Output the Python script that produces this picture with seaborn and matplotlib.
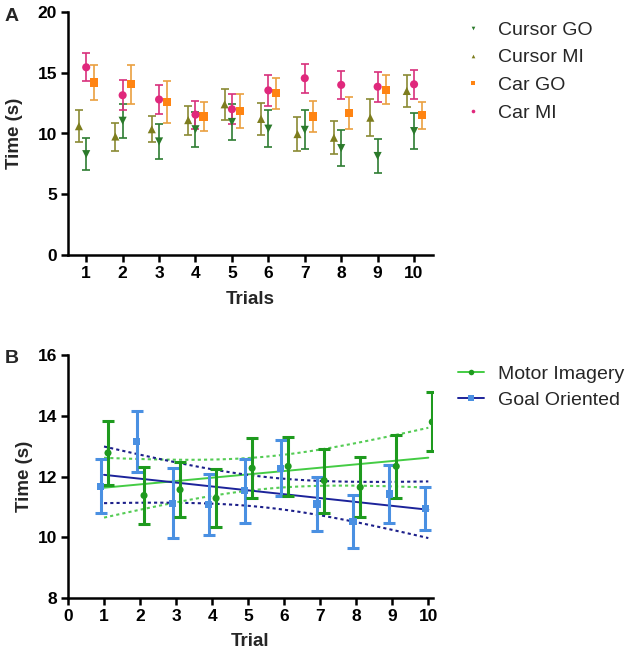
import numpy as np
import pandas as pd
import matplotlib
matplotlib.use("Agg")
import matplotlib.pyplot as plt
from matplotlib.lines import Line2D
import seaborn as sns

# ---------------- data ----------------
trials = [1, 2, 3, 4, 5, 6, 7, 8, 9, 10]

# Panel A
cursor_go_mean = [8.3, 11.05, 9.35, 10.35, 10.95, 10.4, 10.3, 8.8, 8.15, 10.2]
cursor_go_err = [1.3, 1.4, 1.45, 1.45, 1.45, 1.5, 1.6, 1.45, 1.4, 1.5]
cursor_mi_mean = [10.6, 9.75, 10.35, 11.1, 12.4, 11.2, 9.95, 9.65, 11.3, 13.5]
cursor_mi_err = [1.3, 1.15, 1.05, 1.2, 1.3, 1.35, 1.4, 1.35, 1.5, 1.3]
car_go_mean = [14.2, 14.05, 12.6, 11.4, 11.85, 13.3, 11.4, 11.7, 13.6, 11.5]
car_go_err = [1.42, 1.6, 1.72, 1.2, 1.4, 1.3, 1.25, 1.3, 1.2, 1.1]
car_mi_mean = [15.45, 13.15, 12.8, 11.55, 12.0, 13.55, 14.55, 14.0, 13.85, 14.05]
car_mi_err = [1.17, 1.23, 1.2, 1.15, 1.25, 1.3, 1.2, 1.15, 1.25, 1.2]
series_a = ["Cursor GO", "Cursor MI", "Car GO", "Car MI"]
x_ticks_a = [1, 2, 3, 4, 5, 6, 7, 8, 9, 10]
y_ticks_a = [0, 5, 10, 15, 20]

# Panel B
mi_mean = [12.78, 11.38, 11.57, 11.29, 12.28, 12.34, 11.87, 11.65, 12.34, 13.8]
mi_err = [1.05, 0.93, 0.9, 0.96, 0.98, 0.98, 1.05, 0.98, 1.04, 0.97]
go_mean = [11.69, 13.15, 11.13, 11.08, 11.54, 12.28, 11.10, 10.52, 11.43, 10.94]
go_err = [0.88, 1.0, 1.15, 1.0, 1.05, 0.93, 0.89, 0.87, 0.95, 0.71]
series_b = ["Motor Imagery", "Goal Oriented"]
x_ticks_b = [0, 1, 2, 3, 4, 5, 6, 7, 8, 9, 10]
y_ticks_b = [8, 10, 12, 14, 16]

# ---------------- style ----------------
sns.set_style("ticks")
plt.rcParams["font.family"] = ["Liberation Sans", "DejaVu Sans"]

W, H = 633, 657
fig = plt.figure(figsize=(W / 100, H / 100), dpi=100)

def fx(px):
    return px / W

def fy(py):
    return 1 - py / H

axA = fig.add_axes([fx(68), fy(255), fx(433) - fx(68), fy(12) - fy(255)])
axB = fig.add_axes([fx(68), fy(598.3), fx(433) - fx(68), fy(355) - fy(598.3)])

# ---------------- panel A ----------------
offsets_a = {"Cursor GO": 0.0, "Cursor MI": -0.2, "Car GO": 0.22, "Car MI": 0.0}
pal_a = {"Cursor GO": "#2b7a2b", "Cursor MI": "#7d7d1e", "Car GO": "#ff8412", "Car MI": "#e0287c"}
ecol_a = {"Cursor GO": "#2e7d32", "Cursor MI": "#8a8a34", "Car GO": "#eaa040", "Car MI": "#d8307c"}
mark_a = {"Cursor GO": "v", "Cursor MI": "^", "Car GO": "s", "Car MI": "o"}
means_a = {"Cursor GO": cursor_go_mean, "Cursor MI": cursor_mi_mean,
           "Car GO": car_go_mean, "Car MI": car_mi_mean}
errs_a = {"Cursor GO": cursor_go_err, "Cursor MI": cursor_mi_err,
          "Car GO": car_go_err, "Car MI": car_mi_err}

rows = []
for s in series_a:
    for t, m, e in zip(trials, means_a[s], errs_a[s]):
        rows.append({"series": s, "trial": t, "xpos": t + offsets_a[s], "mean": m, "err": e})
dfA = pd.DataFrame(rows)

for s in series_a:
    sub = dfA[dfA.series == s]
    axA.errorbar(sub.xpos, sub["mean"], yerr=sub.err, fmt="none", ecolor=ecol_a[s],
                 elinewidth=1.2, capsize=3, capthick=1.2, zorder=2)

sns.scatterplot(data=dfA, x="xpos", y="mean", hue="series", style="series",
                hue_order=series_a, style_order=series_a,
                palette=pal_a, markers=mark_a, s=34, linewidth=0, ax=axA, zorder=3)

handles, labels = axA.get_legend_handles_labels()
axA.legend(handles, labels, loc="upper left", bbox_to_anchor=(fx(463), fy(21)),
           bbox_transform=fig.transFigure, frameon=False, fontsize=14,
           markerscale=0.45, handlelength=1.0, handletextpad=0.8, labelspacing=0.52,
           borderpad=0, borderaxespad=0)

axA.set_xlim(0.5, 10.52)
axA.set_ylim(0, 20)
axA.set_xticks(x_ticks_a)
axA.set_yticks(y_ticks_a)
axA.set_xlabel("Trials", fontsize=13.5, fontweight="bold", labelpad=7)
axA.set_ylabel("Time (s)", fontsize=13.5, fontweight="bold", labelpad=10)

# ---------------- panel B ----------------
offsets_b = {"Motor Imagery": 0.11, "Goal Oriented": -0.09}
means_b = {"Motor Imagery": mi_mean, "Goal Oriented": go_mean}
errs_b = {"Motor Imagery": mi_err, "Goal Oriented": go_err}
mark_col_b = {"Motor Imagery": "#1e9a1e", "Goal Oriented": "#4a90e2"}
err_col_b = {"Motor Imagery": "#1e9a1e", "Goal Oriented": "#4a90e2"}
line_col_b = {"Motor Imagery": "#44cc44", "Goal Oriented": "#1c239a"}
band_col_b = {"Motor Imagery": "#55cc55", "Goal Oriented": "#1c1f8a"}
mark_b = {"Motor Imagery": "o", "Goal Oriented": "s"}

rows = []
for s in series_b:
    for t, m, e in zip(trials, means_b[s], errs_b[s]):
        rows.append({"series": s, "trial": t, "xpos": t + offsets_b[s], "mean": m, "err": e})
dfB = pd.DataFrame(rows)

t_crit = 2.306  # Student t, 95%, df = 8
for s in series_b:
    sub = dfB[dfB.series == s]
    x = sub.trial.to_numpy(float)
    y = sub["mean"].to_numpy(float)
    # regression line (seaborn)
    sns.regplot(x=x, y=y, ci=None, scatter=False, truncate=True, ax=axB,
                line_kws=dict(color=line_col_b[s], lw=1.4, zorder=1))
    # 95% confidence band of the fit
    b1, b0 = np.polyfit(x, y, 1)
    res = y - (b0 + b1 * x)
    sres = np.sqrt(np.sum(res ** 2) / (len(x) - 2))
    xs = np.linspace(x.min(), x.max(), 100)
    se = sres * np.sqrt(1 / len(x) + (xs - x.mean()) ** 2 / np.sum((x - x.mean()) ** 2))
    fit = b0 + b1 * xs
    for sign in (1, -1):
        axB.plot(xs, fit + sign * t_crit * se, color=band_col_b[s], lw=1.5,
                 ls=(0, (1.5, 1.5)), zorder=1)

for s in ["Goal Oriented", "Motor Imagery"]:
    sub = dfB[dfB.series == s]
    axB.errorbar(sub.xpos, sub["mean"], yerr=sub.err, fmt="none", ecolor=err_col_b[s],
                 elinewidth=2.2, capsize=4, capthick=2.2, zorder=2)

sns.scatterplot(data=dfB, x="xpos", y="mean", hue="series", style="series",
                hue_order=series_b, style_order=series_b,
                palette=mark_col_b, markers=mark_b, s=26, linewidth=0, ax=axB,
                zorder=3, legend=False)

hB = [Line2D([0], [0], color=line_col_b[s], lw=1.4, marker=mark_b[s], markersize=4,
             markerfacecolor=mark_col_b[s], markeredgewidth=0) for s in series_b]
axB.legend(hB, series_b, loc="upper left", bbox_to_anchor=(fx(458), fy(365)),
           bbox_transform=fig.transFigure, frameon=False, fontsize=14,
           handlelength=1.35, handletextpad=0.72, labelspacing=0.45,
           borderpad=0, borderaxespad=0)

axB.set_xlim(0, 10.13)
axB.set_ylim(8, 16)
axB.set_xticks(x_ticks_b)
axB.set_yticks(y_ticks_b)
axB.set_xlabel("Trial", fontsize=13.5, fontweight="bold", labelpad=6)
axB.set_ylabel("Time (s)", fontsize=13.5, fontweight="bold", labelpad=3)

# ---------------- common axis styling ----------------
for ax in (axA, axB):
    sns.despine(ax=ax)
    for sp in ("left", "bottom"):
        ax.spines[sp].set_linewidth(1.8)
        ax.spines[sp].set_color("black")
    ax.tick_params(axis="both", width=1.8, length=5, pad=3, colors="black",
                   labelsize=12.5)
    for lab in ax.get_xticklabels() + ax.get_yticklabels():
        lab.set_fontweight("bold")

fig.text(fx(5), fy(8), "A", fontsize=14, fontweight="bold", va="top", ha="left")
fig.text(fx(5), fy(350), "B", fontsize=14, fontweight="bold", va="top", ha="left")

fig.savefig("out.png", dpi=100)
